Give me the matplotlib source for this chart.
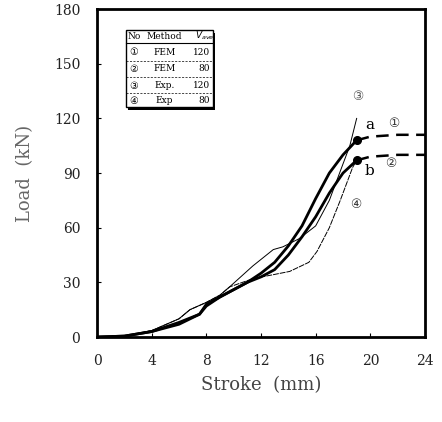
import matplotlib.pyplot as plt
import numpy as np

# FEM, V=120 (curve 1)
fem120_x = [0, 2, 4, 6, 7.5, 8, 9, 10, 11, 12, 13, 14, 15, 16, 17, 18, 19]
fem120_y = [0, 0.5, 3, 8, 12.5, 18, 22, 26, 30, 35, 41, 50, 61, 76, 90, 100, 108]
fem120_ext_x = [19, 20, 22, 24]
fem120_ext_y = [108, 110, 111, 111]

# FEM, V=80 (curve 2)
fem80_x = [0, 2, 4, 6, 7.5, 8, 9, 10, 11, 12, 13, 14, 15, 16, 17, 18, 19]
fem80_y = [0, 0.5, 3, 7, 12.5, 17, 22, 26, 30, 33, 37, 45, 55, 66, 79, 90, 97]
fem80_ext_x = [19, 20, 22, 24]
fem80_ext_y = [97, 99, 100, 100]

# Exp, V=120 (curve 3)
exp120_x = [0, 2, 4, 6, 6.8, 8, 9, 9.7, 11.4, 12.9, 13.6, 14.8, 16, 17, 17.6, 18.5, 19]
exp120_y = [0, 0.5, 3.5, 10, 15, 19, 23, 27.5, 39, 48, 49.5, 54, 61, 75, 87, 105, 120]

# Exp, V=80 (curve 4)
exp80_x = [0, 2, 4, 6, 6.8, 8, 9, 9.7, 11.4, 14.1, 15.5, 16.1, 17, 17.8, 18.3, 18.7, 19]
exp80_y = [0, 0.5, 3.5, 10, 15, 19, 23, 27.5, 32, 36, 41, 47, 60, 75, 85, 93, 97]

table_rows = [["\u2460", "FEM", "120"], ["\u2461", "FEM", "80"],
              ["\u2462", "Exp.", "120"], ["\u2463", "Exp", "80"]]

serif = ['DejaVu Serif', 'Noto Sans CJK JP']
circ = ['DejaVu Sans', 'Noto Sans CJK JP']

fig = plt.figure(figsize=(4.42, 4.22), dpi=100)
ax = fig.add_axes([0.2195, 0.2014, 0.742, 0.777])

ax.plot(fem120_x, fem120_y, color='black', lw=2.0)
ax.plot(fem80_x, fem80_y, color='black', lw=2.0)
ax.plot(exp120_x, exp120_y, color='black', lw=0.7)
ax.plot(exp80_x, exp80_y, color='black', lw=0.7, ls=(0, (6, 1)))
ax.plot(fem120_ext_x, fem120_ext_y, color='black', lw=1.8, ls=(0, (5, 3)))
ax.plot(fem80_ext_x, fem80_ext_y, color='black', lw=1.8, ls=(0, (5, 3)))
ax.plot([fem120_x[-1], fem80_x[-1]], [fem120_y[-1], fem80_y[-1]], 'o',
        color='black', ms=5.5)

ax.text(19.6, 114, "a", fontsize=11, family=serif)
ax.text(19.6, 89, "b", fontsize=11, family=serif)
ax.text(19.05, 132, "\u2462", fontsize=9, family=circ, ha='center', va='center', color='#555555')
ax.text(21.75, 117, "\u2460", fontsize=9, family=circ, ha='center', va='center', color='#333333')
ax.text(21.5, 95, "\u2461", fontsize=9, family=circ, ha='center', va='center', color='#333333')
ax.text(18.9, 73, "\u2463", fontsize=9, family=circ, ha='center', va='center', color='#333333')

ax.set_xlim(0, 24)
ax.set_ylim(0, 180)
ax.set_xticks(np.arange(0, 25, 4))
ax.set_yticks(np.arange(0, 181, 30))
ax.tick_params(direction='in', length=3, width=0.8, pad=12, labelsize=10,
               labelcolor='#222222')
for lab in ax.get_xticklabels() + ax.get_yticklabels():
    lab.set_family(serif)
for s in ax.spines.values():
    s.set_linewidth(2.0)

ax.set_xlabel("Stroke  (mm)", fontsize=13, family=serif, labelpad=6, color='#444444')
ax.set_ylabel("Load  (kN)", fontsize=13, family=serif, labelpad=14, color='#666666')

# legend table drawn in axes fraction coordinates
x0, x1 = 0.088, 0.354
ytop, ybot = 0.935, 0.70
tr = ax.transAxes
ax.add_patch(plt.Rectangle((x0 + 0.006, ybot - 0.008), x1 - x0, ytop - ybot,
                           transform=tr, facecolor='black', lw=0))
ax.add_patch(plt.Rectangle((x0, ybot), x1 - x0, ytop - ybot, transform=tr,
                           facecolor='white', edgecolor='black', lw=1.0))
hdr_y = 0.918
ax.text(0.113, hdr_y, "No", transform=tr, fontsize=6.5, family=serif, ha='center', va='center')
ax.text(0.205, hdr_y, "Method", transform=tr, fontsize=6.5, family=serif, ha='center', va='center')
ax.text(0.328, hdr_y, r"$V_{ave}$", transform=tr, fontsize=6.5, ha='center', va='center')
ax.plot([x0, x1], [0.897, 0.897], transform=tr, color='black', lw=0.8)
row_y = [0.868, 0.818, 0.767, 0.720]
for i, (no, meth, v) in enumerate(table_rows):
    ax.text(0.113, row_y[i], no, transform=tr, fontsize=7, family=circ, ha='center', va='center')
    ax.text(0.205, row_y[i], meth, transform=tr, fontsize=6.5, family=serif, ha='center', va='center')
    ax.text(0.345, row_y[i], v, transform=tr, fontsize=6.5, family=serif, ha='right', va='center')
    if i < 3:
        yl = (row_y[i] + row_y[i + 1]) / 2
        ax.plot([x0, x1], [yl, yl], transform=tr, color='black', lw=0.5, ls=(0, (3, 2)))

fig.savefig("out.png", dpi=100)
